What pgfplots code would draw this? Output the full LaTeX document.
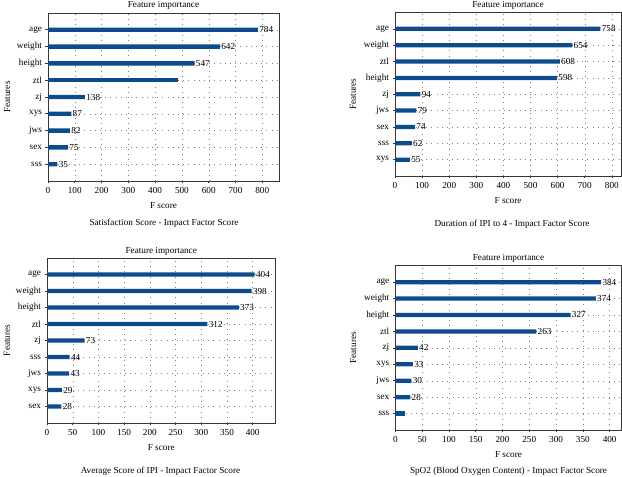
\documentclass[border=0pt]{standalone}
\usepackage{pgfplots}
\pgfplotsset{compat=1.18}
\usepackage{fontspec}
\setmainfont{Liberation Serif}
\definecolor{barblue}{RGB}{12,76,140}
\definecolor{framegray}{RGB}{55,55,55}
\newcommand{\fs}{\fontsize{9.2}{10}\selectfont}
\pgfplotsset{fi/.style={
  scale only axis, xbar, bar width=0.26, bar shift=0pt,
  ymin=-1, ymax=9, xmin=0, ytick={0,...,8},
  font=\fs, tick label style={font=\fs},
  /pgf/number format/assume math mode=true,
  grid=major, major grid style={dash pattern=on 0.7pt off 4.5pt, gray},
  axis line style={framegray, line width=0.8pt},
  tick align=outside, major tick length=2.5pt, tick style={framegray, line width=0.6pt},
  xtick pos=left, ytick pos=left,
  every axis title/.style={at={(axis description cs:0.5,1)}, anchor=base, yshift=5pt, font=\fs},
  title={Feature importance},
  xlabel={F score}, every axis x label/.style={at={(axis description cs:0.5,0)}, anchor=base, yshift=-27.5pt, font=\fs},
  ylabel={Features},
},
lab/.style={fill=barblue, draw=none, point meta=x, nodes near coords,
  nodes near coords style={anchor=west, inner sep=1.2pt, font=\fs, text=black}},
nolab/.style={fill=barblue, draw=none}
}
\begin{document}
\begin{tikzpicture}
\useasboundingbox (0,0) rectangle (622pt,477pt);
% Panel 1
\begin{axis}[fi, at={(48pt,296pt)}, anchor=south west, width=231pt, height=168pt,
  xmax=862.4, xtick={0,100,...,800},
  yticklabels={sss,sex,jws,xys,zj,ztl,height,weight,age},
  ylabel style={at={(axis description cs:-0.177,0.5)}, anchor=center}]
\addplot[lab] coordinates {(35,0) (75,1) (82,2) (87,3) (138,4) (547,6) (642,7) (784,8)};
\addplot[nolab] coordinates {(484,5)};
\end{axis}
\node[anchor=base, font=\fs] at (164pt,251pt) {Satisfaction Score - Impact Factor Score};
% Panel 2
\begin{axis}[fi, at={(395pt,301pt)}, anchor=south west, width=226pt, height=163.5pt,
  xmax=833.8, xtick={0,100,...,800},
  yticklabels={xys,sss,sex,jws,zj,height,ztl,weight,age},
  ylabel style={at={(axis description cs:-0.186,0.5)}, anchor=center}]
\addplot[lab] coordinates {(55,0) (62,1) (74,2) (79,3) (94,4) (598,5) (608,6) (654,7) (758,8)};
\end{axis}
\node[anchor=base, font=\fs] at (512pt,250.3pt) {Duration of IPI to 4 - Impact Factor Score};
% Panel 3
\begin{axis}[fi, at={(47pt,54pt)}, anchor=south west, width=228.5pt, height=165pt,
  xmax=444.4, xtick={0,50,...,400},
  yticklabels={sex,xys,jws,sss,zj,ztl,height,weight,age},
  ylabel style={at={(axis description cs:-0.175,0.5)}, anchor=center}]
\addplot[lab] coordinates {(28,0) (29,1) (43,2) (44,3) (73,4) (312,5) (373,6) (398,7) (404,8)};
\end{axis}
\node[anchor=base, font=\fs] at (160.5pt,3.7pt) {Average Score of IPI - Impact Factor Score};
% Panel 4
\begin{axis}[fi, at={(395.3pt,47pt)}, anchor=south west, width=226.4pt, height=164.3pt,
  xmax=422.4, xtick={0,50,...,400},
  yticklabels={sss,sex,jws,xys,zj,ztl,height,weight,age},
  ylabel style={at={(axis description cs:-0.186,0.5)}, anchor=center}]
\addplot[lab] coordinates {(28,1) (30,2) (33,3) (42,4) (263,5) (327,6) (374,7) (384,8)};
\addplot[nolab] coordinates {(19,0)};
\end{axis}
\node[anchor=base, font=\fs] at (508.5pt,3pt) {SpO2 (Blood Oxygen Content) - Impact Factor Score};
\end{tikzpicture}
\end{document}
